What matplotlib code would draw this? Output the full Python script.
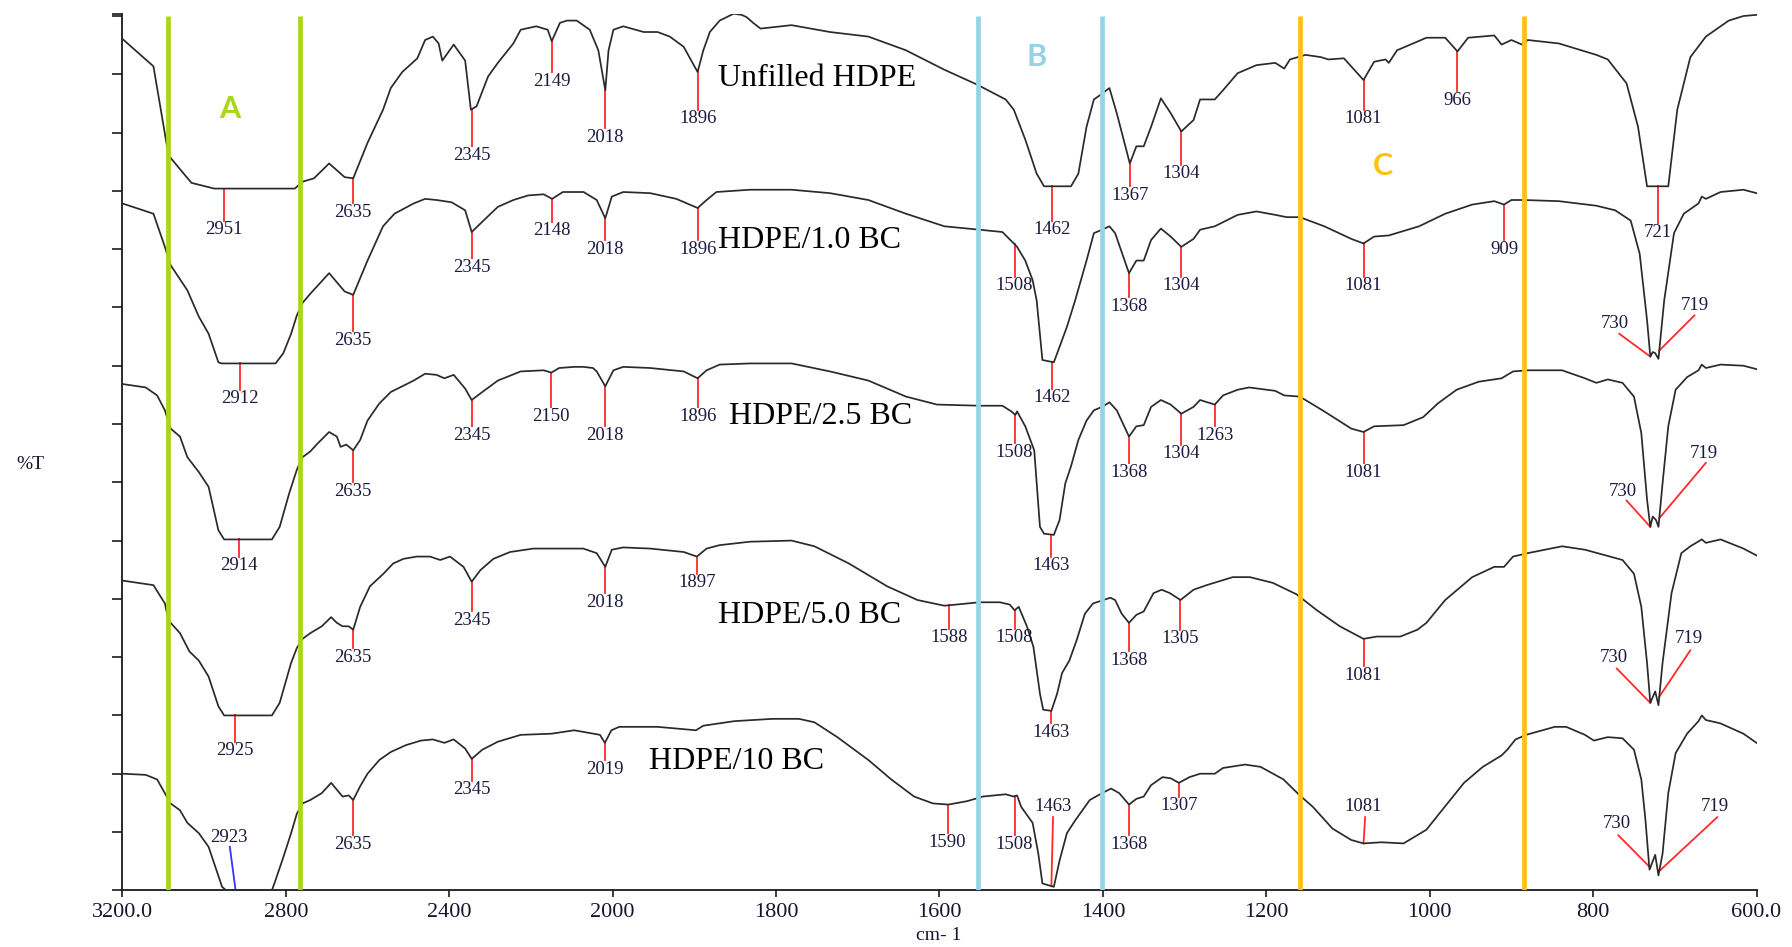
import numpy as np
import matplotlib.pyplot as plt

# FTIR transmittance traces (offset stack, arbitrary %T units), wavenumber in cm-1
unfilled_wn = [3200, 3124, 3096, 3087, 3031, 2975, 2778, 2759, 2731, 2694, 2656, 2635, 2600, 2562, 2543,
               2515, 2478, 2459, 2440, 2426, 2417, 2389, 2361, 2347, 2333, 2305, 2281, 2243, 2225, 2187,
               2159, 2149, 2129, 2112, 2088, 2056, 2035, 2018, 2010, 1999, 1987, 1962, 1945, 1930, 1913,
               1896, 1889, 1881, 1869, 1852, 1842, 1836, 1828, 1819, 1781, 1734, 1687, 1641, 1594, 1554,
               1519, 1509, 1495, 1481, 1472, 1439, 1430, 1420, 1411, 1401, 1392, 1383, 1367, 1359, 1350,
               1341, 1329, 1317, 1304, 1289, 1281, 1263, 1253, 1235, 1212, 1189, 1178, 1171, 1152, 1133,
               1124, 1105, 1081, 1068, 1054, 1050, 1040, 1004, 981, 966, 953, 921, 912, 900, 887,
               880, 842, 796, 782, 759, 745, 734, 708, 697, 681, 662, 634, 616, 600]
unfilled_t = [745, 721, 662, 643, 619, 614, 614, 620, 623, 636, 624, 623, 654, 683, 702,
              716, 728, 744, 747, 741, 726, 740, 726, 683, 686, 712, 724, 741, 753, 756,
              753, 743, 759, 761, 761, 753, 735, 700, 735, 753, 756, 751, 751, 747, 738,
              716, 735, 751, 761, 767, 766, 764, 759, 754, 757, 751, 747, 735, 718, 705,
              692, 683, 657, 627, 616, 616, 627, 668, 692, 697, 702, 680, 636, 651, 651,
              668, 693, 680, 664, 674, 692, 692, 700, 715, 722, 724, 719, 727, 731, 729,
              727, 728, 709, 725, 727, 724, 735, 746, 746, 734, 746, 748, 740, 744, 740,
              744, 741, 731, 727, 706, 668, 616, 616, 683, 729, 747, 761, 765, 766]

bc10_wn = [3200, 3124, 3096, 3082, 3041, 3013, 2989, 2965, 2957, 2825, 2806, 2787, 2773, 2759, 2740,
           2694, 2656, 2635, 2600, 2562, 2534, 2487, 2459, 2431, 2394, 2361, 2345, 2319, 2281, 2243,
           2207, 2169, 2148, 2122, 2071, 2039, 2018, 2002, 1987, 1954, 1922, 1896, 1885, 1873, 1832,
           1781, 1734, 1687, 1641, 1594, 1551, 1523, 1509, 1505, 1495, 1486, 1481, 1474, 1460, 1444,
           1434, 1420, 1411, 1401, 1392, 1385, 1368, 1359, 1350, 1341, 1329, 1317, 1304, 1289, 1281,
           1263, 1235, 1212, 1189, 1175, 1159, 1129, 1096, 1081, 1068, 1050, 1013, 981, 948, 921,
           909, 900, 884, 842, 796, 773, 754, 743, 734, 730, 727, 724, 720, 713, 701,
           689, 671, 667, 662, 644, 616, 600]
bc10_t = [601, 592, 563, 547, 525, 502, 487, 462, 461, 461, 470, 487, 503, 514, 522,
          540, 524, 521, 551, 581, 592, 601, 605, 604, 602, 595, 576, 585, 598, 604,
          608, 609, 605, 611, 611, 604, 588, 607, 611, 610, 605, 597, 604, 611, 613,
          613, 610, 604, 592, 581, 578, 576, 566, 563, 551, 534, 516, 464, 462, 493,
          516, 551, 575, 578, 581, 575, 540, 551, 551, 569, 579, 572, 563, 570, 578,
          581, 591, 594, 591, 589, 589, 581, 570, 566, 572, 573, 581, 592, 600, 603,
          600, 604, 604, 603, 599, 595, 586, 557, 499, 467, 471, 470, 465, 516, 575,
          592, 601, 607, 605, 611, 613, 610]

bc25_wn = [3200, 3143, 3115, 3096, 3082, 3059, 3041, 3013, 2989, 2965, 2951, 2834, 2815, 2792, 2773,
           2759, 2740, 2722, 2694, 2675, 2666, 2652, 2635, 2618, 2600, 2571, 2543, 2515, 2487, 2459,
           2431, 2412, 2389, 2361, 2345, 2319, 2281, 2225, 2169, 2150, 2131, 2094, 2072, 2048, 2039,
           2018, 1999, 1987, 1954, 1913, 1896, 1885, 1869, 1832, 1781, 1734, 1687, 1641, 1603, 1551,
           1523, 1512, 1507, 1505, 1495, 1484, 1477, 1472, 1460, 1453, 1446, 1439, 1430, 1420, 1411,
           1401, 1392, 1383, 1368, 1359, 1350, 1341, 1329, 1317, 1304, 1289, 1281, 1263, 1253, 1235,
           1221, 1189, 1178, 1159, 1129, 1096, 1081, 1068, 1032, 1008, 990, 967, 940, 912, 898,
           880, 838, 810, 796, 782, 764, 750, 741, 734, 730, 727, 723, 720, 715, 708,
           699, 685, 671, 667, 662, 644, 616, 600]
bc25_t = [443, 440, 433, 420, 404, 397, 379, 366, 353, 315, 307, 307, 318, 347, 368,
          379, 384, 391, 401, 397, 388, 390, 385, 394, 411, 426, 436, 441, 446, 452,
          451, 448, 451, 439, 429, 436, 446, 454, 455, 453, 457, 458, 458, 457, 454,
          441, 455, 458, 457, 454, 448, 455, 460, 461, 461, 454, 446, 432, 425, 424,
          424, 419, 416, 419, 406, 385, 318, 312, 311, 324, 356, 371, 394, 411, 420,
          423, 427, 420, 397, 406, 407, 423, 429, 425, 417, 423, 429, 425, 433, 438,
          440, 437, 433, 432, 419, 404, 401, 406, 407, 414, 426, 438, 445, 448, 454,
          455, 455, 448, 444, 447, 444, 432, 400, 342, 318, 327, 324, 318, 356, 406,
          438, 449, 455, 460, 457, 460, 459, 456]

bc50_wn = [3200, 3124, 3096, 3087, 3059, 3036, 3013, 2989, 2965, 2951, 2834, 2815, 2787, 2773, 2759,
           2740, 2712, 2689, 2675, 2661, 2646, 2635, 2618, 2594, 2561, 2537, 2512, 2480, 2447, 2422,
           2398, 2365, 2345, 2324, 2292, 2251, 2194, 2072, 2039, 2018, 2002, 1987, 1954, 1913, 1897,
           1885, 1869, 1832, 1781, 1753, 1711, 1664, 1627, 1594, 1551, 1526, 1514, 1508, 1503, 1493,
           1485, 1477, 1473, 1463, 1456, 1450, 1441, 1432, 1422, 1412, 1399, 1391, 1385, 1377, 1368,
           1359, 1350, 1338, 1328, 1318, 1305, 1289, 1273, 1241, 1220, 1192, 1163, 1138, 1110, 1081,
           1065, 1036, 1015, 1004, 981, 948, 921, 909, 898, 880, 838, 810, 764, 750, 741,
           734, 730, 724, 720, 715, 704, 692, 681, 667, 662, 644, 616, 600]
bc50_t = [271, 267, 251, 236, 225, 209, 201, 187, 161, 153, 153, 164, 199, 212, 220,
          225, 231, 239, 234, 231, 231, 228, 248, 266, 277, 286, 290, 292, 292, 289,
          292, 283, 270, 280, 290, 296, 299, 299, 295, 283, 298, 300, 299, 296, 292,
          299, 302, 305, 306, 301, 286, 266, 254, 249, 252, 252, 250, 245, 248, 231,
          213, 172, 158, 157, 172, 190, 201, 219, 242, 251, 254, 256, 254, 242, 234,
          241, 244, 260, 263, 260, 254, 263, 267, 274, 274, 269, 259, 245, 231, 220,
          222, 222, 228, 234, 254, 274, 283, 283, 292, 295, 301, 298, 289, 277, 248,
          199, 164, 174, 162, 199, 260, 295, 301, 307, 304, 307, 299, 293]

bc100_wn = [3200, 3143, 3115, 3096, 3082, 3059, 3041, 3013, 2989, 2970, 2956, 2946, 2834, 2825, 2806,
            2787, 2773, 2759, 2740, 2712, 2689, 2675, 2661, 2646, 2635, 2618, 2600, 2571, 2543, 2506,
            2469, 2440, 2412, 2389, 2361, 2345, 2319, 2281, 2225, 2150, 2094, 2031, 2019, 2003, 1992,
            1945, 1898, 1889, 1851, 1804, 1772, 1753, 1725, 1687, 1659, 1631, 1608, 1589, 1566, 1547,
            1519, 1509, 1505, 1500, 1486, 1479, 1474, 1460, 1453, 1444, 1434, 1425, 1416, 1401, 1390,
            1380, 1368, 1359, 1350, 1341, 1327, 1317, 1307, 1294, 1281, 1263, 1253, 1226, 1207, 1179,
            1159, 1143, 1119, 1096, 1081, 1059, 1032, 1018, 1004, 985, 958, 935, 912, 905, 895,
            882, 847, 833, 810, 799, 782, 764, 750, 741, 736, 731, 724, 720, 715, 708,
            699, 685, 671, 667, 662, 644, 616, 600]
bc100_t = [102, 101, 97, 85, 76, 70, 59, 50, 38, 18, 3, 0, 0, 9, 29,
           50, 67, 76, 79, 85, 94, 88, 82, 83, 79, 91, 102, 114, 121, 127,
           131, 132, 129, 132, 124, 115, 123, 130, 136, 137, 140, 136, 129, 140, 143,
           143, 140, 144, 148, 150, 150, 147, 134, 114, 97, 82, 76, 75, 78, 82,
           84, 82, 83, 73, 59, 32, 6, 3, 26, 50, 61, 70, 79, 85, 89,
           85, 75, 80, 82, 92, 99, 98, 94, 99, 102, 102, 107, 110, 108, 97,
           83, 73, 54, 44, 41, 42, 41, 47, 53, 70, 94, 108, 118, 123, 132,
           136, 143, 143, 136, 131, 134, 133, 123, 97, 62, 18, 31, 13, 32, 85,
           120, 137, 148, 153, 149, 146, 137, 129]

sample_names = ['Unfilled HDPE', 'HDPE/1.0 BC', 'HDPE/2.5 BC', 'HDPE/5.0 BC', 'HDPE/10 BC']

# picked peaks: (wavenumber, lower end of the tick under the peak)
peaks = [
    [(2951, 586), (2635, 601), (2345, 651), (2149, 716), (2018, 667), (1896, 683),
     (1462, 586), (1367, 616), (1304, 635), (1081, 683), (966, 699), (721, 584)],
    [(2912, 438), (2635, 489), (2345, 553), (2148, 585), (2018, 569), (1896, 569),
     (1508, 537), (1462, 439), (1368, 519), (1304, 537), (1081, 537), (909, 569)],
    [(2914, 292), (2635, 357), (2345, 406), (2150, 423), (2018, 406), (1896, 423),
     (1508, 391), (1463, 292), (1368, 374), (1304, 390), (1263, 406), (1081, 374)],
    [(2925, 130), (2635, 212), (2345, 244), (2018, 260), (1897, 277), (1588, 229),
     (1508, 229), (1463, 146), (1368, 209), (1305, 228), (1081, 196)],
    [(2635, 48), (2345, 96), (2019, 114), (1590, 50), (1508, 48), (1368, 48), (1307, 82)],
]

# peaks labelled off to the side: (trace, wavenumber, line end x, line end y, text x, text y)
side_peaks = [
    (1, 730, 768, 487, 773, 496), (1, 719, 676, 503, 676, 512),
    (2, 730, 759, 341, 764, 349), (2, 719, 662, 374, 664, 382),
    (3, 730, 771, 194, 775, 204), (3, 719, 681, 210, 683, 220),
    (4, 730, 769, 48, 771, 58), (4, 719, 648, 64, 651, 73),
    (4, 1463, 1461, 64, 1461, 73), (4, 1081, 1079, 64, 1081, 73),
]

# where the sample names sit (left edge wavenumber, height)
name_pos = [(1871, 710), (1871, 569), (1857, 415), (1871, 240), (1955, 113)]

# highlighted regions A, B, C
band_edges = [(3088, 2766), (1553, 1401), (1159, 884)]
band_names = ['A', 'B', 'C']
band_colors = ['#a8d716', '#96d3e6', '#ffc20e']
band_text_pos = [(2937, 684), (1481, 729), (1057, 634)]

x_ticks = [3200, 2800, 2400, 2000, 1800, 1600, 1400, 1200, 1000, 800, 600]
x_ticklabels = ['3200.0', '2800', '2400', '2000', '1800', '1600', '1400', '1200', '1000', '800', '600.0']

traces = [(unfilled_wn, unfilled_t), (bc10_wn, bc10_t), (bc25_wn, bc25_t),
          (bc50_wn, bc50_t), (bc100_wn, bc100_t)]


def forward(w):
    w = np.asarray(w, dtype=float)
    return np.where(w > 2000, 2000 + (w - 2000) / 2.0, w)


def inverse(u):
    u = np.asarray(u, dtype=float)
    return np.where(u > 2000, 2000 + (u - 2000) * 2.0, u)


def t_at(i, w):
    wn, t = traces[i]
    return float(np.interp(w, wn[::-1], t[::-1]))


serif = 'Liberation Serif'
lab_color = '#1b1b3f'
red = '#ff2a2a'
peak_fs = 13.5

fig = plt.figure(figsize=(17.92, 9.47), dpi=100)
ax = fig.add_axes([0.0683, 0.0599, 0.9119, 0.9256])
ax.set_xscale('function', functions=(forward, inverse))
ax.set_xlim(3200, 600)
ax.set_ylim(0, 767)

for wn, t in traces:
    ax.plot(wn, t, color='#2a2a2a', lw=1.25, zorder=3, solid_joinstyle='round')

for i, plist in enumerate(peaks):
    for w, low in plist:
        top = t_at(i, w)
        ax.plot([w, w], [top, low], color=red, lw=1.3, zorder=2)
        ax.text(w, low - 8, str(w), ha='center', va='center', fontsize=peak_fs,
                family=serif, color=lab_color, zorder=5)

for i, w, ex, ey, tx, ty in side_peaks:
    ax.plot([w, ex], [t_at(i, w), ey], color=red, lw=1.3, zorder=2)
    ax.text(tx, ty, str(w), ha='center', va='center', fontsize=peak_fs,
            family=serif, color=lab_color, zorder=5)

# blue pick on the saturated C-H band of HDPE/10 BC
ax.plot([2923, 2937], [0, 38], color='#3535ff', lw=1.3, zorder=2)
ax.text(2940, 46, '2923', ha='center', va='center', fontsize=peak_fs,
        family=serif, color=lab_color, zorder=5)

for name, (w, y) in zip(sample_names, name_pos):
    ax.text(w, y, name, ha='left', va='center', fontsize=23, family=serif,
            color='black', zorder=5)

for (w1, w2), name, c, (tx, ty) in zip(band_edges, band_names, band_colors, band_text_pos):
    ax.vlines([w1, w2], 0, 765, colors=c, lw=3.4, zorder=4)
    ax.text(tx, ty, name, ha='center', va='center', fontsize=22, fontweight='bold',
            family='Lato', color=c, zorder=5)

for side in ['top', 'right']:
    ax.spines[side].set_visible(False)
for side in ['left', 'bottom']:
    ax.spines[side].set_linewidth(1.3)
    ax.spines[side].set_color('#1a1a1a')

ax.set_yticks(list(np.arange(0, 766, 51)) + [767])
ax.tick_params(axis='y', direction='out', length=7, width=1.2, labelleft=False, color='#1a1a1a')
ax.set_xticks(x_ticks)
ax.set_xticklabels(x_ticklabels, fontsize=16, family=serif, color='#15152e')
ax.xaxis.set_minor_locator(plt.NullLocator())
ax.tick_params(axis='x', direction='out', length=5, width=1.2, pad=4, color='#1a1a1a')

fig.text(0.524, 0.012, 'cm- 1', ha='center', va='center', fontsize=14, family=serif, color='#15152e')
fig.text(0.017, 0.51, '%T', ha='center', va='center', fontsize=14, family=serif, color='#15152e')

fig.savefig('out.png', dpi=100)
